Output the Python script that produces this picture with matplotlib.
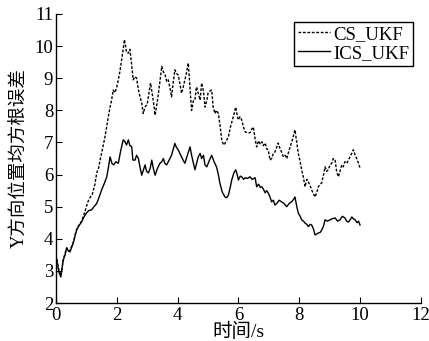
import matplotlib
matplotlib.use("Agg")
import matplotlib.pyplot as plt

plt.rcParams.update({
    "font.family": ["Liberation Serif", "Noto Sans CJK SC"],
    "font.size": 13.5,
    "axes.linewidth": 1.0,
})

# ICS_UKF (solid) readings
t_ics = [0.0, 0.05, 0.1, 0.16, 0.24, 0.3, 0.35, 0.41, 0.46, 0.52, 0.57, 0.63, 0.68, 0.75,
         0.84, 0.92, 1.0, 1.08, 1.17, 1.25, 1.34, 1.42, 1.5, 1.58, 1.67, 1.72, 1.78, 1.84,
         1.9, 1.97, 2.05, 2.12, 2.21, 2.27, 2.32, 2.38, 2.43, 2.49, 2.53, 2.6, 2.65, 2.71,
         2.77, 2.82, 2.88, 2.93, 2.98, 3.04, 3.1, 3.15, 3.2, 3.26, 3.34, 3.42, 3.48, 3.53,
         3.58, 3.64, 3.72, 3.8, 3.86, 3.91, 3.96, 4.02, 4.08, 4.13, 4.18, 4.24, 4.32, 4.41,
         4.46, 4.52, 4.57, 4.68, 4.74, 4.79, 4.85, 4.9, 4.96, 5.05, 5.12, 5.2, 5.28, 5.34,
         5.39, 5.47, 5.56, 5.62, 5.67, 5.73, 5.78, 5.85, 5.91, 5.96, 6.0, 6.06, 6.11, 6.17,
         6.22, 6.3, 6.38, 6.45, 6.55, 6.6, 6.66, 6.72, 6.77, 6.82, 6.88, 6.93, 6.98, 7.04,
         7.09, 7.15, 7.2, 7.26, 7.34, 7.42, 7.5, 7.59, 7.67, 7.75, 7.81, 7.86, 7.92, 7.97,
         8.03, 8.08, 8.14, 8.19, 8.25, 8.3, 8.36, 8.41, 8.47, 8.52, 8.58, 8.63, 8.69, 8.74,
         8.8, 8.85, 8.93, 9.01, 9.08, 9.18, 9.26, 9.34, 9.42, 9.5, 9.56, 9.62, 9.68, 9.73,
         9.78, 9.84, 9.9, 9.95, 10.0]
v_ics = [3.45, 3.2, 2.95, 2.81, 3.34, 3.5, 3.71, 3.62, 3.59, 3.75, 3.87, 4.1, 4.27, 4.4,
         4.52, 4.68, 4.8, 4.88, 4.9, 5.0, 5.1, 5.3, 5.52, 5.7, 5.93, 6.2, 6.55, 6.35,
         6.3, 6.4, 6.35, 6.7, 7.08, 7.02, 6.92, 7.08, 6.9, 6.87, 6.45, 6.45, 6.6, 6.5,
         6.2, 5.98, 6.15, 6.3, 6.1, 6.05, 6.2, 6.45, 6.2, 5.98, 6.2, 6.35, 6.4, 6.5,
         6.35, 6.3, 6.45, 6.6, 6.8, 6.97, 6.85, 6.77, 6.65, 6.55, 6.45, 6.35, 6.6, 6.86,
         6.6, 6.35, 6.15, 6.55, 6.66, 6.5, 6.6, 6.3, 6.24, 6.45, 6.6, 6.4, 6.24, 6.0,
         5.74, 5.45, 5.3, 5.28, 5.36, 5.6, 5.83, 6.05, 6.15, 6.0, 5.83, 5.95, 5.93, 5.85,
         5.9, 5.88, 5.93, 5.85, 5.9, 5.62, 5.7, 5.6, 5.62, 5.55, 5.43, 5.5, 5.43, 5.3,
         5.15, 5.2, 5.05, 5.1, 5.2, 5.15, 5.1, 5.0, 5.1, 5.15, 5.22, 5.3, 5.0, 4.8,
         4.7, 4.59, 4.55, 4.49, 4.45, 4.38, 4.45, 4.43, 4.3, 4.12, 4.15, 4.18, 4.2, 4.27,
         4.4, 4.59, 4.55, 4.59, 4.62, 4.65, 4.55, 4.59, 4.7, 4.65, 4.55, 4.52, 4.6, 4.68,
         4.62, 4.59, 4.5, 4.55, 4.43]

# CS_UKF (dotted) readings
t_cs = [0.0, 0.05, 0.1, 0.16, 0.24, 0.35, 0.46, 0.57, 0.68, 0.84, 0.92, 1.0, 1.05, 1.1,
        1.2, 1.28, 1.34, 1.4, 1.45, 1.53, 1.61, 1.67, 1.72, 1.78, 1.83, 1.88, 1.94, 2.0,
        2.05, 2.1, 2.16, 2.21, 2.25, 2.29, 2.32, 2.38, 2.43, 2.48, 2.54, 2.6, 2.65, 2.72,
        2.77, 2.82, 2.87, 2.93, 3.0, 3.05, 3.11, 3.16, 3.2, 3.26, 3.32, 3.37, 3.43, 3.48,
        3.53, 3.59, 3.64, 3.69, 3.75, 3.8, 3.86, 3.91, 3.96, 4.02, 4.08, 4.13, 4.18, 4.24,
        4.3, 4.35, 4.4, 4.46, 4.52, 4.57, 4.62, 4.68, 4.74, 4.79, 4.85, 4.9, 4.96, 5.0,
        5.06, 5.12, 5.17, 5.23, 5.28, 5.34, 5.4, 5.45, 5.5, 5.53, 5.6, 5.67, 5.73, 5.8,
        5.86, 5.91, 5.96, 6.0, 6.05, 6.11, 6.16, 6.22, 6.3, 6.38, 6.43, 6.49, 6.55, 6.6,
        6.66, 6.72, 6.77, 6.82, 6.88, 6.93, 6.98, 7.04, 7.09, 7.15, 7.2, 7.26, 7.31, 7.37,
        7.42, 7.48, 7.54, 7.59, 7.65, 7.7, 7.78, 7.86, 7.92, 7.97, 8.03, 8.08, 8.14, 8.19,
        8.25, 8.3, 8.36, 8.41, 8.47, 8.52, 8.58, 8.63, 8.69, 8.74, 8.8, 8.85, 8.9, 8.96,
        9.01, 9.07, 9.12, 9.18, 9.23, 9.29, 9.34, 9.4, 9.45, 9.5, 9.56, 9.62, 9.67, 9.72,
        9.78, 9.84, 9.89, 9.95, 10.0]
v_cs = [3.5, 3.25, 3.0, 2.85, 3.35, 3.72, 3.62, 3.9, 4.3, 4.55, 4.75, 5.0, 5.15, 5.25,
        5.4, 5.7, 6.05, 6.2, 6.45, 6.8, 7.17, 7.5, 7.8, 8.1, 8.32, 8.63, 8.55, 8.73,
        8.95, 9.2, 9.57, 9.9, 10.2, 10.0, 9.8, 9.78, 9.9, 9.5, 8.95, 9.05, 9.0, 8.6,
        8.4, 8.22, 7.9, 8.1, 8.2, 8.5, 8.85, 8.55, 8.3, 7.85, 8.2, 8.53, 9.0, 9.37,
        9.2, 9.1, 8.9, 8.95, 8.7, 8.42, 8.9, 9.26, 9.15, 9.1, 8.8, 8.53, 8.7, 8.95,
        9.2, 9.47, 8.8, 8.0, 8.3, 8.32, 8.73, 8.53, 8.32, 8.85, 8.6, 8.1, 8.3, 8.53,
        8.6, 8.63, 8.1, 7.9, 8.0, 7.9, 7.5, 7.08, 6.95, 6.92, 7.05, 7.17, 7.45, 7.7,
        7.9, 8.1, 7.85, 7.7, 7.8, 7.7, 7.5, 7.33, 7.3, 7.3, 7.4, 7.48, 7.1, 6.86,
        7.05, 6.95, 7.02, 6.9, 6.98, 6.8, 6.77, 6.45, 6.5, 6.66, 6.7, 6.85, 6.98, 6.8,
        6.7, 6.55, 6.6, 6.5, 6.7, 6.86, 7.1, 7.39, 7.0, 6.66, 6.4, 6.15, 5.9, 5.62,
        5.85, 5.77, 5.65, 5.52, 5.4, 5.3, 5.45, 5.62, 5.7, 5.74, 6.0, 6.24, 6.1, 6.15,
        6.3, 6.35, 6.5, 6.45, 6.1, 5.93, 6.1, 6.3, 6.24, 6.4, 6.35, 6.45, 6.55, 6.65,
        6.77, 6.6, 6.5, 6.35, 6.2]

x_ticks = [0, 2, 4, 6, 8, 10, 12]
y_ticks = [2, 3, 4, 5, 6, 7, 8, 9, 10, 11]

fig = plt.figure(figsize=(4.29, 3.41), dpi=100)
ax = fig.add_axes([0.1305, 0.1114, 0.8505, 0.8476])

ax.plot(t_cs, v_cs, color="black", lw=1.0, linestyle=(0, (2, 1.2)), label="CS_UKF")
ax.plot(t_ics, v_ics, color="black", lw=1.0, label="ICS_UKF")

ax.set_xlim(0, 12)
ax.set_ylim(2, 11)
ax.set_xticks(x_ticks)
ax.set_yticks(y_ticks)
ax.spines["top"].set_visible(False)
ax.spines["right"].set_visible(False)
ax.tick_params(direction="in", length=4, width=0.8)
ax.tick_params(axis="x", pad=3)
ax.tick_params(axis="y", pad=2)

ax.set_xlabel("时间/s", labelpad=-1, fontsize=14)
ax.set_ylabel("Y方向位置均方根误差", labelpad=4, fontsize=13.3)

ax.legend(loc="upper right", bbox_to_anchor=(0.99, 0.985), fancybox=False,
          edgecolor="black", framealpha=1, handlelength=1.7, handletextpad=0.2,
          labelspacing=0.1, borderpad=0.2, borderaxespad=0.2)
ax.get_legend().get_frame().set_linewidth(1.0)

fig.savefig("out.png", dpi=100)
